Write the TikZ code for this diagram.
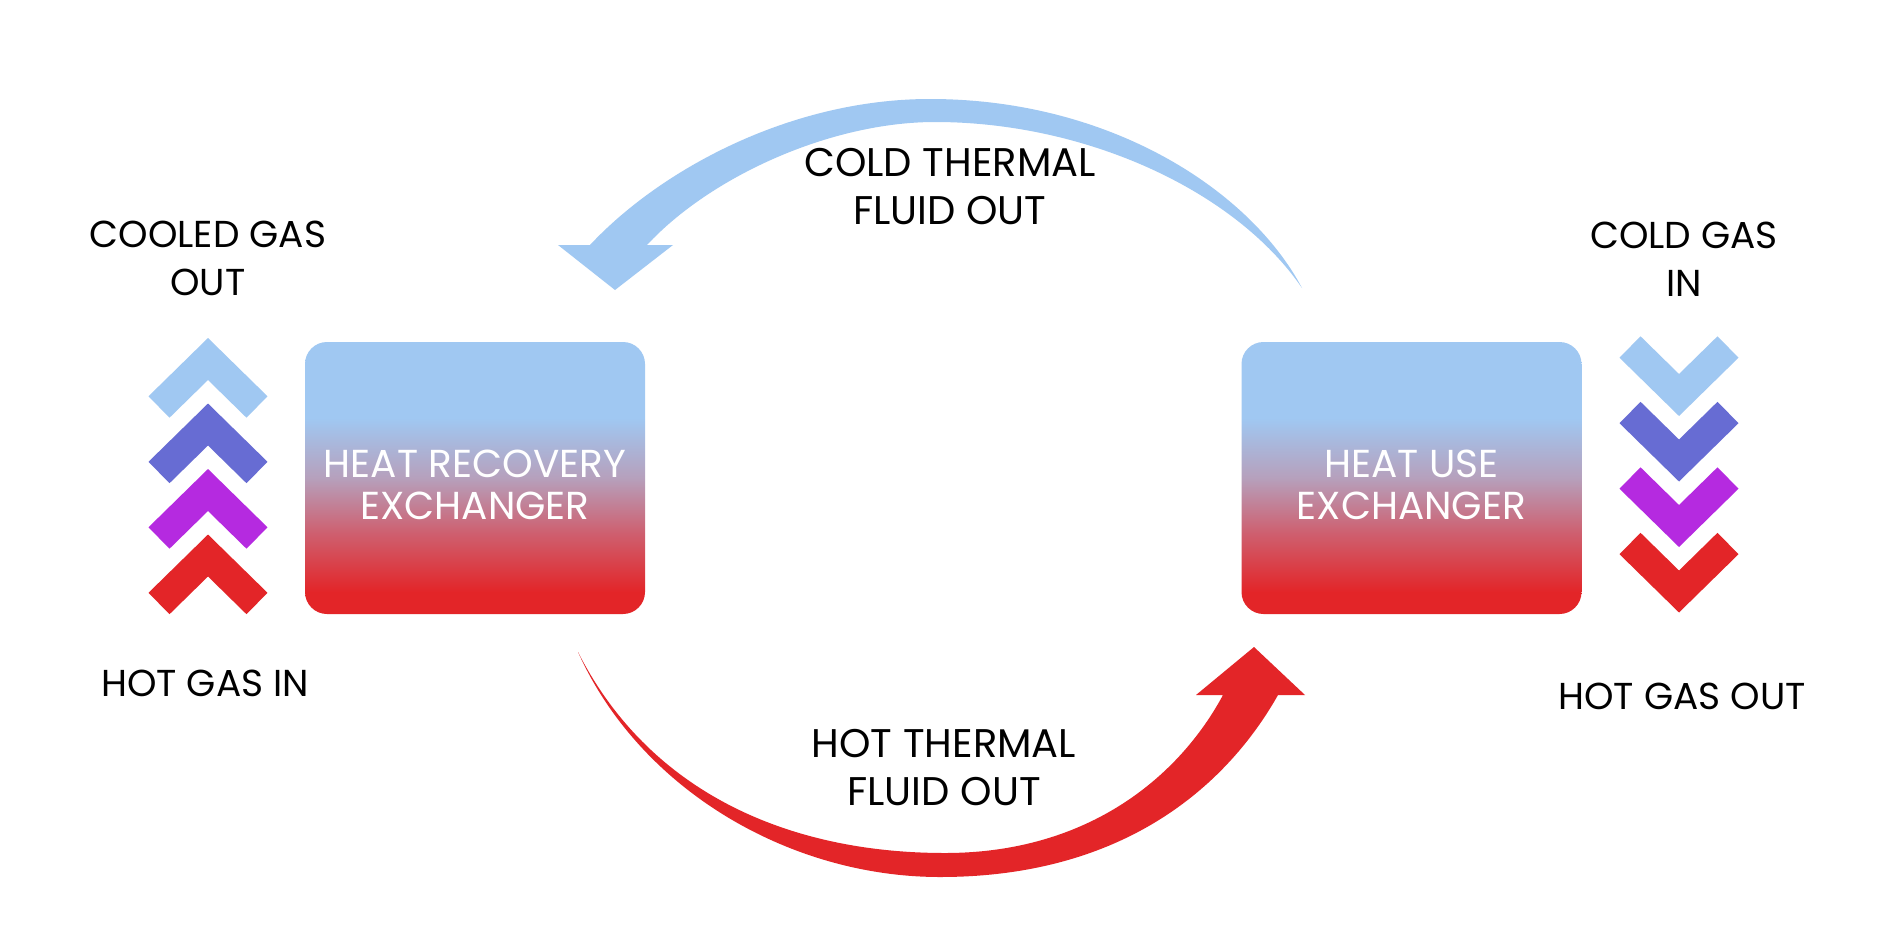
\documentclass[tikz,border=0pt]{standalone}
\usepackage{fontspec}
\setmainfont{Poppins}
\definecolor{lblue}{HTML}{A0C8F2}
\definecolor{mblue}{HTML}{676CD3}
\definecolor{mpurp}{HTML}{B52AE0}
\definecolor{mred}{HTML}{E32528}
\definecolor{hmauve}{HTML}{B6A0BC}
\definecolor{hpink}{HTML}{CE6070}
\pgfdeclareverticalshading{boxgrad}{100bp}{color(0bp)=(mred); color(29bp)=(mred); color(40bp)=(hpink); color(50bp)=(hmauve); color(61bp)=(lblue); color(100bp)=(lblue)}
\tikzset{
  chev/.style={line width=30pt, line join=miter},
  lbl/.style={font=\fontsize{37.5}{48}\selectfont, align=center, text=black, inner sep=0pt},
  flbl/.style={font=\fontsize{40}{48}\selectfont, align=center, text=black, inner sep=0pt},
  boxtxt/.style={font=\fontsize{39}{42}\selectfont, align=center, text=white, inner sep=0pt},
  exch/.style={shading=boxgrad, rounded corners=22pt, minimum width=340pt, minimum height=272pt, inner sep=0pt},
  coldarrow/.style={fill=lblue},
  hotarrow/.style={fill=mred}
}
\begin{document}
\begin{tikzpicture}[x=1pt,y=-1pt]
\useasboundingbox (0,0) rectangle (1890,945);
\fill[white] (0,0) rectangle (1890,945);

% exchangers
\node[exch] (hrx) at (475,478) {};
\node[boxtxt] (hrxt) at ([yshift=-7pt]hrx.center) {HEAT RECOVERY\\EXCHANGER};
\node[exch] (hux) at (1411.5,478) {};
\node[boxtxt] (huxt) at ([yshift=-7pt]hux.center) {HEAT USE\\EXCHANGER};

% left chevrons (up)
\draw[chev, lblue] (159,407) -- (208,359) -- (257,407);
\draw[chev, mblue] (159,472.5) -- (208,424.5) -- (257,472.5);
\draw[chev, mpurp] (159,538) -- (208,490) -- (257,538);
\draw[chev, mred] (159,603.5) -- (208,555.5) -- (257,603.5);

% right chevrons (down)
\draw[chev, lblue] (1630,347) -- (1679,395) -- (1728,347);
\draw[chev, mblue] (1630,412.5) -- (1679,460.5) -- (1728,412.5);
\draw[chev, mpurp] (1630,478) -- (1679,526) -- (1728,478);
\draw[chev, mred] (1630,543.5) -- (1679,591.5) -- (1728,543.5);

% cold thermal fluid arrow
\fill[coldarrow] (1302,288) .. controls (1250,190) and (1110,99) .. (930,99)
  .. controls (790,99) and (660,170) .. (590,245) -- (558,245) -- (615,290) -- (673,245) -- (647,245)
  .. controls (710,177) and (830,122) .. (935,122)
  .. controls (1085,122) and (1235,190) .. (1302,288) -- cycle;

% hot thermal fluid arrow
\fill[hotarrow] (578,652) .. controls (640,790) and (790,877) .. (940,877)
  .. controls (1130,877) and (1230,780) .. (1278,695) -- (1305,695) -- (1254,647) -- (1196,695) -- (1223,695)
  .. controls (1180,775) and (1090,853) .. (945,853)
  .. controls (785,853) and (648,790) .. (578,652) -- cycle;

% labels
\node[lbl] (cgo) at (208,258) {COOLED GAS\\OUT};
\node[lbl] (hgi) at (205,683) {HOT GAS IN};
\node[flbl] (ctf) at (950,187) {COLD THERMAL\\FLUID OUT};
\node[flbl] (htf) at (944,768) {HOT THERMAL\\FLUID OUT};
\node[lbl] (cgi) at (1684,259) {COLD GAS\\IN};
\node[lbl] (hgo) at (1682,696) {HOT GAS OUT};
\end{tikzpicture}
\end{document}
